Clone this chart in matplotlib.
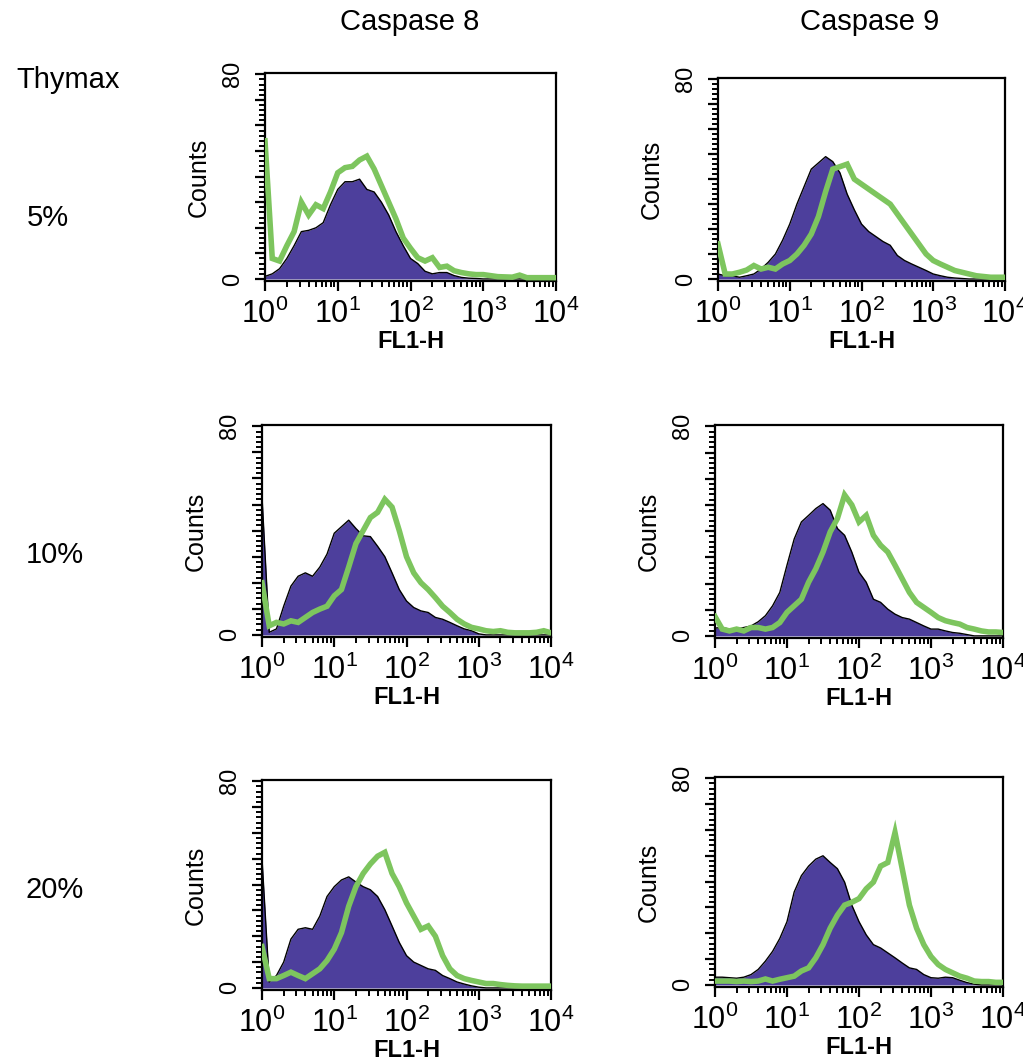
import numpy as np
import matplotlib
matplotlib.use("Agg")
import matplotlib.pyplot as plt
from matplotlib.ticker import FixedLocator, NullFormatter, MultipleLocator

# bin centres in decades (10^0 .. 10^4)
bin_log = np.round(np.arange(41) * 0.1, 1)

col_titles = ["Caspase 8", "Caspase 9"]
row_titles = ["5%", "10%", "20%"]

# purple = control (filled), green = treated (line)
c8_5_ctrl = [1, 2, 4, 8, 13, 18.5, 19, 20, 22, 29, 35, 38, 38, 39, 35, 34, 30, 25, 18.5, 13, 8,
             6, 3, 2, 2.5, 2.5, 1.3, 0.6, 0.3, 0.2, 0, 0, 0, 0, 0, 0, 0, 0, 0, 0, 0]
c8_5_trt = [54, 8, 7, 13, 18.5, 30, 25, 29, 27.5, 34, 41.5, 43.5, 44, 46.5, 48, 43, 36.5, 30, 23.5, 16, 12,
            8.3, 7, 8.3, 4.5, 5, 3.2, 2.5, 2, 1.7, 1.7, 1.3, 0.9, 0.8, 0.7, 1.5, 0.5, 0.5, 0.5, 0.5, 0.5]
c9_5_ctrl = [2, 1.3, 1.3, 0.7, 1.3, 2, 4, 6.7, 10, 15.5, 22, 30, 37, 44, 46.5, 49, 47, 42.5, 34, 27.7, 22,
             19, 17, 15, 13.5, 9.4, 7.4, 6, 4.7, 3.4, 2, 1.3, 0.7, 0.4, 0.2, 0, 0, 0, 0, 0, 0]
c9_5_trt = [14, 2, 2, 2.7, 3.6, 5.4, 4, 4.7, 4, 6, 7.4, 10, 13.5, 18, 25, 35, 44, 45, 46, 40, 38,
            36, 34, 32, 30, 26, 22, 18, 14, 10, 7.4, 6, 4.7, 3.4, 2.7, 2, 1.3, 1, 0.7, 0.7, 0.7]
c8_10_ctrl = [53, 1, 2.3, 11, 18.7, 22.5, 23.8, 22.5, 26, 31, 39, 41.5, 44, 40.8, 38, 37.7, 34, 30, 23.8, 17.4, 13,
              10.5, 9.2, 8.6, 6.7, 6, 4.8, 3.5, 2.3, 1.6, 0.4, 0, 0, 0, 0, 0, 0, 0, 0, 0, 0]
c8_10_trt = [20, 3.5, 4.8, 4.2, 5.4, 4.8, 6.7, 8.6, 9.9, 11, 15, 17.4, 26, 35, 40, 45, 47, 52, 49, 40, 30,
             23.8, 20, 17.4, 14.3, 11, 8.6, 6, 4.2, 2.9, 2.3, 1.6, 1.3, 1.6, 1, 0.8, 0.8, 0.8, 1, 1.6, 0.8]
c9_10_ctrl = [3, 3.2, 2.6, 2.6, 3.2, 3.8, 5.4, 7.7, 11.5, 16.6, 27, 37, 43.5, 46, 48.6, 50.5, 48, 41, 38.4, 32, 24.3,
              20.5, 14, 12.8, 10.2, 8.3, 7, 6.4, 5.1, 3.8, 2.6, 2.6, 1.9, 1.3, 1, 0.5, 0, 0, 0, 0, 0]
c9_10_trt = [7.4, 2.6, 1.9, 2.6, 1.9, 3.2, 3.2, 2.6, 3.2, 5.1, 9, 11.5, 14, 20.5, 25.6, 32, 39.7, 44.8, 53.8, 50, 43.5,
             46, 38.4, 34.6, 32, 27, 21.8, 16.6, 12.8, 10.9, 9, 7, 5.8, 5.1, 4.5, 3.2, 2.6, 1.9, 1.5, 1.5, 1.3]
c8_20_ctrl = [50, 2.3, 4.8, 10, 18.9, 22.7, 23.3, 22.7, 27.8, 35.4, 39.2, 41.8, 43, 41, 39.2, 38, 35.4, 30.3, 24, 17.6, 12.5,
              10, 8.7, 7.4, 6.8, 4.8, 3.6, 2.3, 1.5, 0.8, 0.3, 0, 0, 0, 0, 0, 0, 0, 0, 0, 0]
c8_20_trt = [16, 3.6, 3.6, 4.8, 6.1, 4.8, 3.6, 5.5, 7.4, 10.6, 15, 21.4, 31.6, 39.2, 44.3, 48, 51, 52.5, 44.3, 39.2, 32.9,
             27.8, 22.7, 24, 20, 12.5, 7.4, 4.8, 3.6, 2.9, 2.3, 1.7, 1.7, 1.3, 1, 0.8, 0.7, 0.7, 0.7, 0.7, 0.7]
c9_20_ctrl = [3, 3, 2.8, 2.6, 3, 4, 6, 9.2, 13, 18, 24.5, 36, 42.3, 46, 48.7, 50, 47.4, 45, 39.8, 30.9, 24.5,
              19.4, 15.6, 14.3, 12.4, 10.5, 8.5, 6.6, 6, 4, 2.8, 2.6, 3, 2.8, 1.8, 0.9, 0.3, 0, 0, 0, 0]
c9_20_trt = [1.5, 1.5, 1.5, 1.3, 1.5, 1.3, 1.5, 2.3, 1.5, 2.2, 2.8, 3.4, 5.4, 6.6, 10.5, 15.6, 22, 27, 30.9, 32, 33.4,
             37.2, 39.8, 46, 47.4, 59, 45, 30.9, 22, 15.6, 11, 7.9, 6, 4.7, 3.4, 2.6, 1.5, 1.3, 1.3, 1, 1]

panels = [
    [(c8_5_ctrl, c8_5_trt), (c9_5_ctrl, c9_5_trt)],
    [(c8_10_ctrl, c8_10_trt), (c9_10_ctrl, c9_10_trt)],
    [(c8_20_ctrl, c8_20_trt), (c9_20_ctrl, c9_20_trt)],
]

PURPLE = "#4d3f9c"
GREEN = "#7dc55e"

plt.rcParams["font.family"] = ["Liberation Sans", "DejaVu Sans"]
plt.rcParams["mathtext.fontset"] = "custom"
plt.rcParams["mathtext.rm"] = "Liberation Sans"

W, H = 1023, 1062
fig = plt.figure(figsize=(W / 100, H / 100), dpi=100)

# axes boxes in pixels: left, top, right, bottom
boxes = [
    [(265, 73, 556, 281), (718, 78, 1005, 281)],
    [(262, 425, 551, 637), (715, 425, 1003, 638)],
    [(262, 780, 551, 990), (715, 777, 1003, 987)],
]

xs = 10 ** bin_log
minor_x = [m * 10 ** d for d in range(4) for m in range(2, 10)]

for r in range(3):
    for c in range(2):
        l, t, rr, b = boxes[r][c]
        ax = fig.add_axes([l / W, 1 - b / H, (rr - l) / W, (b - t) / H])
        ctrl, trt = panels[r][c]
        ax.fill_between(xs, 0, ctrl, color=PURPLE, lw=0, zorder=2)
        ax.plot(xs, ctrl, color="black", lw=1.0, zorder=3)
        ax.plot(xs, trt, color=GREEN, lw=4, zorder=4, solid_joinstyle="miter")

        ax.set_xscale("log")
        ax.set_xlim(1, 1e4)
        ax.set_ylim(-0.8, 80.5)

        ax.xaxis.set_major_locator(FixedLocator([1, 10, 100, 1000, 10000]))
        ax.xaxis.set_minor_locator(FixedLocator(minor_x))
        ax.xaxis.set_minor_formatter(NullFormatter())
        ax.set_xticklabels([r"$\mathregular{10^{%d}}$" % i for i in range(5)], fontsize=22)

        ax.yaxis.set_minor_locator(MultipleLocator(2))
        ax.set_yticks(range(0, 90, 10))
        ax.set_yticklabels(["0", "", "", "", "", "", "", "", "80"], rotation=90, va="center",
                           fontsize=17)

        ax.tick_params(axis="both", which="major", direction="out", length=7, width=1.6, color="black")
        ax.tick_params(axis="both", which="minor", direction="out", length=4, width=1.4, color="black")
        ax.tick_params(axis="x", which="major", pad=6)
        ax.tick_params(axis="y", which="major", pad=8)
        for s in ax.spines.values():
            s.set_linewidth(1.6)

        ax.set_xlabel("FL1-H", fontsize=17, fontweight="bold", labelpad=0)
        ax.set_ylabel("Counts", fontsize=18, labelpad=8)

for c, name in enumerate(col_titles):
    x = [410, 870][c]
    fig.text(x / W, 1 - 22 / H, name, fontsize=21, ha="center", va="center")

fig.text(68 / W, 1 - 80 / H, "Thymax", fontsize=21, ha="center", va="center")
for r, name in enumerate(row_titles):
    x, y = [(48, 218), (55, 555), (55, 890)][r]
    fig.text(x / W, 1 - y / H, name, fontsize=21, ha="center", va="center")

fig.savefig("out.png", dpi=100)
